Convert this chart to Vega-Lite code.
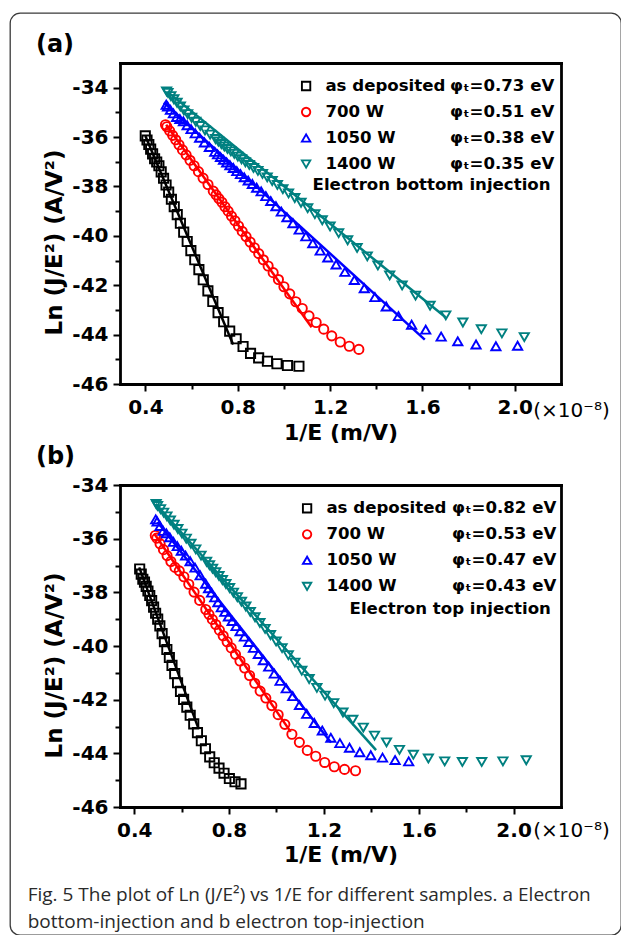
{
"$schema":"https://vega.github.io/schema/vega-lite/v6.json",
"width":611,"height":922,
"padding":{"left":10,"top":13,"right":0,"bottom":0},
"autosize":{"type":"none"},
"background":"white",
"config":{
"view":{"stroke":"#3a3a3a","strokeWidth":1.3,"cornerRadius":10},
"axis":{"grid":false,"domainColor":"black","domainWidth":2.8,"domainCap":"square","tickColor":"black","tickWidth":2,"labelColor":"black","labelFont":"DejaVu Sans","labelFontWeight":"bold","labelFontSize":20,"titleColor":"black","titleFont":"DejaVu Sans","titleFontWeight":"bold","titleFontSize":22,"labelOverlap":false,"labelFlush":false,"labelBound":false},
"legend":{"labelFont":"DejaVu Sans","labelFontWeight":"bold","labelFontSize":16.6,"labelColor":"black","rowPadding":9,"padding":0,"labelLimit":400}
},
"title":{"text":["Fig. 5 The plot of Ln (J/E²) vs 1/E for different samples. a Electron","bottom-injection and b electron top-injection"],"orient":"bottom","anchor":"start","frame":"group","offset":-49,"dx":17.7,"font":"Open Sans","fontSize":19,"fontWeight":"normal","color":"#2a2a2a","lineHeight":27,"baseline":"top"},
"datasets":{
"pa":[
{"s":"as deposited","x":0.3995,"y":-35.95},{"s":"as deposited","x":0.4070,"y":-36.12},{"s":"as deposited","x":0.4148,"y":-36.30},{"s":"as deposited","x":0.4228,"y":-36.49},{"s":"as deposited","x":0.4312,"y":-36.68},{"s":"as deposited","x":0.4399,"y":-36.88},{"s":"as deposited","x":0.4490,"y":-37.01},{"s":"as deposited","x":0.4585,"y":-37.16},{"s":"as deposited","x":0.4684,"y":-37.41},{"s":"as deposited","x":0.4787,"y":-37.67},{"s":"as deposited","x":0.4895,"y":-37.94},{"s":"as deposited","x":0.5008,"y":-38.23},{"s":"as deposited","x":0.5126,"y":-38.52},{"s":"as deposited","x":0.5249,"y":-38.82},{"s":"as deposited","x":0.5379,"y":-39.14},{"s":"as deposited","x":0.5516,"y":-39.49},{"s":"as deposited","x":0.5659,"y":-39.85},{"s":"as deposited","x":0.5811,"y":-40.23},{"s":"as deposited","x":0.5970,"y":-40.60},{"s":"as deposited","x":0.6139,"y":-40.97},{"s":"as deposited","x":0.6317,"y":-41.37},{"s":"as deposited","x":0.6506,"y":-41.78},{"s":"as deposited","x":0.6707,"y":-42.23},{"s":"as deposited","x":0.6920,"y":-42.66},{"s":"as deposited","x":0.7148,"y":-43.11},{"s":"as deposited","x":0.7391,"y":-43.48},{"s":"as deposited","x":0.7651,"y":-43.86},{"s":"as deposited","x":0.7930,"y":-44.17},{"s":"as deposited","x":0.8230,"y":-44.48},{"s":"as deposited","x":0.8554,"y":-44.76},{"s":"as deposited","x":0.8905,"y":-44.94},{"s":"as deposited","x":0.9285,"y":-45.08},{"s":"as deposited","x":0.9699,"y":-45.18},{"s":"as deposited","x":1.0152,"y":-45.25},{"s":"as deposited","x":1.065,"y":-45.28},
{"s":"700 W","x":0.4870,"y":-35.50},{"s":"700 W","x":0.4929,"y":-35.58},{"s":"700 W","x":0.5051,"y":-35.75},{"s":"700 W","x":0.5179,"y":-35.93},{"s":"700 W","x":0.5313,"y":-36.11},{"s":"700 W","x":0.5456,"y":-36.31},{"s":"700 W","x":0.5605,"y":-36.52},{"s":"700 W","x":0.5764,"y":-36.72},{"s":"700 W","x":0.5931,"y":-36.94},{"s":"700 W","x":0.6109,"y":-37.16},{"s":"700 W","x":0.6297,"y":-37.40},{"s":"700 W","x":0.6498,"y":-37.66},{"s":"700 W","x":0.6711,"y":-37.92},{"s":"700 W","x":0.6940,"y":-38.19},{"s":"700 W","x":0.7060,"y":-38.34},{"s":"700 W","x":0.7184,"y":-38.49},{"s":"700 W","x":0.7313,"y":-38.64},{"s":"700 W","x":0.7446,"y":-38.82},{"s":"700 W","x":0.7584,"y":-39.00},{"s":"700 W","x":0.7728,"y":-39.20},{"s":"700 W","x":0.7877,"y":-39.39},{"s":"700 W","x":0.8032,"y":-39.60},{"s":"700 W","x":0.8193,"y":-39.82},{"s":"700 W","x":0.8361,"y":-40.03},{"s":"700 W","x":0.8536,"y":-40.25},{"s":"700 W","x":0.8718,"y":-40.48},{"s":"700 W","x":0.8909,"y":-40.72},{"s":"700 W","x":0.9107,"y":-40.97},{"s":"700 W","x":0.9315,"y":-41.22},{"s":"700 W","x":0.9533,"y":-41.49},{"s":"700 W","x":0.9761,"y":-41.77},{"s":"700 W","x":1.0000,"y":-42.06},{"s":"700 W","x":1.0251,"y":-42.35},{"s":"700 W","x":1.0515,"y":-42.67},{"s":"700 W","x":1.0793,"y":-42.94},{"s":"700 W","x":1.1086,"y":-43.24},{"s":"700 W","x":1.1396,"y":-43.51},{"s":"700 W","x":1.1723,"y":-43.78},{"s":"700 W","x":1.2070,"y":-44.05},{"s":"700 W","x":1.2438,"y":-44.30},{"s":"700 W","x":1.2829,"y":-44.47},{"s":"700 W","x":1.3245,"y":-44.60},
{"s":"1050 W","x":0.4901,"y":-34.69},{"s":"1050 W","x":0.4960,"y":-34.76},{"s":"1050 W","x":0.5084,"y":-34.90},{"s":"1050 W","x":0.5214,"y":-35.04},{"s":"1050 W","x":0.5351,"y":-35.19},{"s":"1050 W","x":0.5495,"y":-35.27},{"s":"1050 W","x":0.5647,"y":-35.36},{"s":"1050 W","x":0.5807,"y":-35.52},{"s":"1050 W","x":0.5977,"y":-35.68},{"s":"1050 W","x":0.6158,"y":-35.85},{"s":"1050 W","x":0.6349,"y":-36.03},{"s":"1050 W","x":0.6553,"y":-36.22},{"s":"1050 W","x":0.6770,"y":-36.40},{"s":"1050 W","x":0.7003,"y":-36.60},{"s":"1050 W","x":0.7125,"y":-36.70},{"s":"1050 W","x":0.7252,"y":-36.81},{"s":"1050 W","x":0.7383,"y":-36.92},{"s":"1050 W","x":0.7519,"y":-37.03},{"s":"1050 W","x":0.7660,"y":-37.14},{"s":"1050 W","x":0.7806,"y":-37.25},{"s":"1050 W","x":0.7959,"y":-37.38},{"s":"1050 W","x":0.8117,"y":-37.50},{"s":"1050 W","x":0.8282,"y":-37.63},{"s":"1050 W","x":0.8453,"y":-37.76},{"s":"1050 W","x":0.8632,"y":-37.90},{"s":"1050 W","x":0.8818,"y":-38.05},{"s":"1050 W","x":0.9013,"y":-38.20},{"s":"1050 W","x":0.9217,"y":-38.39},{"s":"1050 W","x":0.9430,"y":-38.59},{"s":"1050 W","x":0.9653,"y":-38.80},{"s":"1050 W","x":0.9886,"y":-39.02},{"s":"1050 W","x":1.013,"y":-39.25},{"s":"1050 W","x":1.039,"y":-39.49},{"s":"1050 W","x":1.066,"y":-39.75},{"s":"1050 W","x":1.095,"y":-40.02},{"s":"1050 W","x":1.125,"y":-40.30},{"s":"1050 W","x":1.157,"y":-40.60},{"s":"1050 W","x":1.190,"y":-40.88},{"s":"1050 W","x":1.226,"y":-41.16},{"s":"1050 W","x":1.264,"y":-41.46},{"s":"1050 W","x":1.305,"y":-41.79},{"s":"1050 W","x":1.348,"y":-42.12},{"s":"1050 W","x":1.394,"y":-42.48},{"s":"1050 W","x":1.443,"y":-42.86},{"s":"1050 W","x":1.496,"y":-43.25},{"s":"1050 W","x":1.553,"y":-43.60},{"s":"1050 W","x":1.614,"y":-43.80},{"s":"1050 W","x":1.681,"y":-44.08},{"s":"1050 W","x":1.753,"y":-44.27},{"s":"1050 W","x":1.832,"y":-44.40},{"s":"1050 W","x":1.918,"y":-44.47},{"s":"1050 W","x":2.012,"y":-44.45},
{"s":"1400 W","x":0.4918,"y":-34.15},{"s":"1400 W","x":0.4978,"y":-34.21},{"s":"1400 W","x":0.5102,"y":-34.34},{"s":"1400 W","x":0.5233,"y":-34.47},{"s":"1400 W","x":0.5371,"y":-34.61},{"s":"1400 W","x":0.5516,"y":-34.76},{"s":"1400 W","x":0.5669,"y":-34.92},{"s":"1400 W","x":0.5831,"y":-35.07},{"s":"1400 W","x":0.6002,"y":-35.22},{"s":"1400 W","x":0.6184,"y":-35.38},{"s":"1400 W","x":0.6378,"y":-35.55},{"s":"1400 W","x":0.6583,"y":-35.73},{"s":"1400 W","x":0.6803,"y":-35.90},{"s":"1400 W","x":0.7037,"y":-36.08},{"s":"1400 W","x":0.7161,"y":-36.18},{"s":"1400 W","x":0.7289,"y":-36.28},{"s":"1400 W","x":0.7421,"y":-36.38},{"s":"1400 W","x":0.7559,"y":-36.48},{"s":"1400 W","x":0.7701,"y":-36.58},{"s":"1400 W","x":0.7849,"y":-36.68},{"s":"1400 W","x":0.8003,"y":-36.79},{"s":"1400 W","x":0.8163,"y":-36.90},{"s":"1400 W","x":0.8330,"y":-37.02},{"s":"1400 W","x":0.8503,"y":-37.13},{"s":"1400 W","x":0.8684,"y":-37.25},{"s":"1400 W","x":0.8873,"y":-37.37},{"s":"1400 W","x":0.9070,"y":-37.49},{"s":"1400 W","x":0.9276,"y":-37.63},{"s":"1400 W","x":0.9492,"y":-37.78},{"s":"1400 W","x":0.9718,"y":-37.94},{"s":"1400 W","x":0.9955,"y":-38.11},{"s":"1400 W","x":1.020,"y":-38.28},{"s":"1400 W","x":1.047,"y":-38.47},{"s":"1400 W","x":1.074,"y":-38.66},{"s":"1400 W","x":1.103,"y":-38.88},{"s":"1400 W","x":1.134,"y":-39.12},{"s":"1400 W","x":1.166,"y":-39.37},{"s":"1400 W","x":1.200,"y":-39.62},{"s":"1400 W","x":1.237,"y":-39.89},{"s":"1400 W","x":1.276,"y":-40.18},{"s":"1400 W","x":1.317,"y":-40.49},{"s":"1400 W","x":1.361,"y":-40.83},{"s":"1400 W","x":1.407,"y":-41.20},{"s":"1400 W","x":1.458,"y":-41.60},{"s":"1400 W","x":1.512,"y":-42.01},{"s":"1400 W","x":1.570,"y":-42.42},{"s":"1400 W","x":1.633,"y":-42.83},{"s":"1400 W","x":1.701,"y":-43.22},{"s":"1400 W","x":1.775,"y":-43.51},{"s":"1400 W","x":1.855,"y":-43.78},{"s":"1400 W","x":1.944,"y":-43.95},{"s":"1400 W","x":2.041,"y":-44.10}
],
"pb":[
{"s":"as deposited","x":0.4230,"y":-37.13},{"s":"as deposited","x":0.4296,"y":-37.32},{"s":"as deposited","x":0.4363,"y":-37.51},{"s":"as deposited","x":0.4433,"y":-37.62},{"s":"as deposited","x":0.4505,"y":-37.78},{"s":"as deposited","x":0.4579,"y":-37.95},{"s":"as deposited","x":0.4655,"y":-38.12},{"s":"as deposited","x":0.4735,"y":-38.31},{"s":"as deposited","x":0.4817,"y":-38.55},{"s":"as deposited","x":0.4902,"y":-38.78},{"s":"as deposited","x":0.4990,"y":-39.00},{"s":"as deposited","x":0.5081,"y":-39.25},{"s":"as deposited","x":0.5176,"y":-39.54},{"s":"as deposited","x":0.5274,"y":-39.84},{"s":"as deposited","x":0.5376,"y":-40.13},{"s":"as deposited","x":0.5482,"y":-40.43},{"s":"as deposited","x":0.5593,"y":-40.72},{"s":"as deposited","x":0.5708,"y":-41.03},{"s":"as deposited","x":0.5828,"y":-41.37},{"s":"as deposited","x":0.5952,"y":-41.69},{"s":"as deposited","x":0.6083,"y":-41.99},{"s":"as deposited","x":0.6219,"y":-42.28},{"s":"as deposited","x":0.6361,"y":-42.58},{"s":"as deposited","x":0.6510,"y":-42.90},{"s":"as deposited","x":0.6667,"y":-43.23},{"s":"as deposited","x":0.6831,"y":-43.53},{"s":"as deposited","x":0.7003,"y":-43.83},{"s":"as deposited","x":0.7184,"y":-44.13},{"s":"as deposited","x":0.7375,"y":-44.35},{"s":"as deposited","x":0.7576,"y":-44.55},{"s":"as deposited","x":0.7788,"y":-44.74},{"s":"as deposited","x":0.8013,"y":-44.94},{"s":"as deposited","x":0.8251,"y":-45.06},{"s":"as deposited","x":0.8503,"y":-45.14},
{"s":"700 W","x":0.4888,"y":-35.88},{"s":"700 W","x":0.4953,"y":-35.98},{"s":"700 W","x":0.5089,"y":-36.19},{"s":"700 W","x":0.5233,"y":-36.41},{"s":"700 W","x":0.5385,"y":-36.63},{"s":"700 W","x":0.5546,"y":-36.85},{"s":"700 W","x":0.5718,"y":-37.07},{"s":"700 W","x":0.5900,"y":-37.20},{"s":"700 W","x":0.6094,"y":-37.42},{"s":"700 W","x":0.6301,"y":-37.70},{"s":"700 W","x":0.6523,"y":-37.99},{"s":"700 W","x":0.6761,"y":-38.30},{"s":"700 W","x":0.7018,"y":-38.64},{"s":"700 W","x":0.7153,"y":-38.82},{"s":"700 W","x":0.7294,"y":-39.01},{"s":"700 W","x":0.7440,"y":-39.20},{"s":"700 W","x":0.7593,"y":-39.41},{"s":"700 W","x":0.7752,"y":-39.62},{"s":"700 W","x":0.7918,"y":-39.84},{"s":"700 W","x":0.8091,"y":-40.07},{"s":"700 W","x":0.8271,"y":-40.31},{"s":"700 W","x":0.8460,"y":-40.56},{"s":"700 W","x":0.8658,"y":-40.82},{"s":"700 W","x":0.8865,"y":-41.10},{"s":"700 W","x":0.9083,"y":-41.39},{"s":"700 W","x":0.9311,"y":-41.68},{"s":"700 W","x":0.9551,"y":-41.94},{"s":"700 W","x":0.9804,"y":-42.22},{"s":"700 W","x":1.0070,"y":-42.56},{"s":"700 W","x":1.0352,"y":-42.92},{"s":"700 W","x":1.0650,"y":-43.29},{"s":"700 W","x":1.0965,"y":-43.59},{"s":"700 W","x":1.1299,"y":-43.89},{"s":"700 W","x":1.1655,"y":-44.11},{"s":"700 W","x":1.2034,"y":-44.34},{"s":"700 W","x":1.2438,"y":-44.50},{"s":"700 W","x":1.2870,"y":-44.60},{"s":"700 W","x":1.3333,"y":-44.65},
{"s":"1050 W","x":0.4906,"y":-35.28},{"s":"1050 W","x":0.4965,"y":-35.36},{"s":"1050 W","x":0.5089,"y":-35.53},{"s":"1050 W","x":0.5219,"y":-35.71},{"s":"1050 W","x":0.5356,"y":-35.80},{"s":"1050 W","x":0.5501,"y":-35.95},{"s":"1050 W","x":0.5653,"y":-36.12},{"s":"1050 W","x":0.5814,"y":-36.28},{"s":"1050 W","x":0.5984,"y":-36.45},{"s":"1050 W","x":0.6165,"y":-36.63},{"s":"1050 W","x":0.6357,"y":-36.84},{"s":"1050 W","x":0.6562,"y":-37.08},{"s":"1050 W","x":0.6780,"y":-37.37},{"s":"1050 W","x":0.7013,"y":-37.68},{"s":"1050 W","x":0.7135,"y":-37.85},{"s":"1050 W","x":0.7262,"y":-38.01},{"s":"1050 W","x":0.7394,"y":-38.19},{"s":"1050 W","x":0.7530,"y":-38.37},{"s":"1050 W","x":0.7672,"y":-38.56},{"s":"1050 W","x":0.7819,"y":-38.73},{"s":"1050 W","x":0.7971,"y":-38.90},{"s":"1050 W","x":0.8130,"y":-39.07},{"s":"1050 W","x":0.8295,"y":-39.26},{"s":"1050 W","x":0.8467,"y":-39.45},{"s":"1050 W","x":0.8647,"y":-39.65},{"s":"1050 W","x":0.8834,"y":-39.85},{"s":"1050 W","x":0.9029,"y":-40.07},{"s":"1050 W","x":0.9234,"y":-40.30},{"s":"1050 W","x":0.9447,"y":-40.53},{"s":"1050 W","x":0.9671,"y":-40.77},{"s":"1050 W","x":0.9906,"y":-41.03},{"s":"1050 W","x":1.0152,"y":-41.30},{"s":"1050 W","x":1.0411,"y":-41.58},{"s":"1050 W","x":1.0684,"y":-41.87},{"s":"1050 W","x":1.0971,"y":-42.20},{"s":"1050 W","x":1.1274,"y":-42.53},{"s":"1050 W","x":1.1594,"y":-42.87},{"s":"1050 W","x":1.1933,"y":-43.15},{"s":"1050 W","x":1.2293,"y":-43.42},{"s":"1050 W","x":1.2674,"y":-43.62},{"s":"1050 W","x":1.3080,"y":-43.79},{"s":"1050 W","x":1.3514,"y":-43.96},{"s":"1050 W","x":1.3976,"y":-44.07},{"s":"1050 W","x":1.4472,"y":-44.16},{"s":"1050 W","x":1.5004,"y":-44.25},{"s":"1050 W","x":1.5576,"y":-44.30},
{"s":"1400 W","x":0.4925,"y":-34.71},{"s":"1400 W","x":0.4985,"y":-34.78},{"s":"1400 W","x":0.5110,"y":-34.90},{"s":"1400 W","x":0.5241,"y":-35.03},{"s":"1400 W","x":0.5379,"y":-35.17},{"s":"1400 W","x":0.5525,"y":-35.32},{"s":"1400 W","x":0.5679,"y":-35.48},{"s":"1400 W","x":0.5841,"y":-35.64},{"s":"1400 W","x":0.6013,"y":-35.81},{"s":"1400 W","x":0.6196,"y":-36.00},{"s":"1400 W","x":0.6390,"y":-36.19},{"s":"1400 W","x":0.6596,"y":-36.40},{"s":"1400 W","x":0.6817,"y":-36.63},{"s":"1400 W","x":0.7052,"y":-36.86},{"s":"1400 W","x":0.7176,"y":-36.99},{"s":"1400 W","x":0.7305,"y":-37.12},{"s":"1400 W","x":0.7438,"y":-37.25},{"s":"1400 W","x":0.7576,"y":-37.39},{"s":"1400 W","x":0.7719,"y":-37.54},{"s":"1400 W","x":0.7868,"y":-37.69},{"s":"1400 W","x":0.8022,"y":-37.84},{"s":"1400 W","x":0.8183,"y":-38.01},{"s":"1400 W","x":0.8351,"y":-38.18},{"s":"1400 W","x":0.8525,"y":-38.35},{"s":"1400 W","x":0.8707,"y":-38.53},{"s":"1400 W","x":0.8897,"y":-38.73},{"s":"1400 W","x":0.9095,"y":-38.93},{"s":"1400 W","x":0.9302,"y":-39.14},{"s":"1400 W","x":0.9519,"y":-39.36},{"s":"1400 W","x":0.9747,"y":-39.59},{"s":"1400 W","x":0.9985,"y":-39.83},{"s":"1400 W","x":1.0235,"y":-40.08},{"s":"1400 W","x":1.0499,"y":-40.34},{"s":"1400 W","x":1.0776,"y":-40.62},{"s":"1400 W","x":1.1068,"y":-40.92},{"s":"1400 W","x":1.1377,"y":-41.23},{"s":"1400 W","x":1.1703,"y":-41.56},{"s":"1400 W","x":1.2048,"y":-41.85},{"s":"1400 W","x":1.2415,"y":-42.13},{"s":"1400 W","x":1.2804,"y":-42.48},{"s":"1400 W","x":1.3219,"y":-42.75},{"s":"1400 W","x":1.3661,"y":-43.04},{"s":"1400 W","x":1.4134,"y":-43.34},{"s":"1400 W","x":1.4641,"y":-43.59},{"s":"1400 W","x":1.5186,"y":-43.87},{"s":"1400 W","x":1.5773,"y":-44.05},{"s":"1400 W","x":1.6407,"y":-44.19},{"s":"1400 W","x":1.7094,"y":-44.30},{"s":"1400 W","x":1.7841,"y":-44.32},{"s":"1400 W","x":1.8657,"y":-44.32},{"s":"1400 W","x":1.9550,"y":-44.30},{"s":"1400 W","x":2.0534,"y":-44.26}
],
"la":[
{"s":"as deposited","x":0.40,"y":-35.96},{"s":"as deposited","x":0.78,"y":-44.40},
{"s":"700 W","x":0.49,"y":-35.50},{"s":"700 W","x":1.12,"y":-43.70},
{"s":"1050 W","x":0.48,"y":-34.60},{"s":"1050 W","x":1.61,"y":-44.20},
{"s":"1400 W","x":0.50,"y":-34.20},{"s":"1400 W","x":1.70,"y":-43.30}
],
"lb":[
{"s":"as deposited","x":0.421,"y":-37.07},{"s":"as deposited","x":0.67,"y":-43.05},
{"s":"700 W","x":0.484,"y":-35.81},{"s":"700 W","x":1.06,"y":-43.20},
{"s":"1050 W","x":0.498,"y":-35.38},{"s":"1050 W","x":1.23,"y":-43.60},
{"s":"1400 W","x":0.49,"y":-34.70},{"s":"1400 W","x":1.42,"y":-43.88}
],
"ga":[
{"phi":"φₜ=0.73 eV","note":"Electron bottom injection"},{"phi":"φₜ=0.51 eV","note":"Electron bottom injection"},{"phi":"φₜ=0.38 eV","note":"Electron bottom injection"},{"phi":"φₜ=0.35 eV","note":"Electron bottom injection"}
],
"gb":[
{"phi":"φₜ=0.82 eV","note":"Electron top injection"},{"phi":"φₜ=0.53 eV","note":"Electron top injection"},{"phi":"φₜ=0.47 eV","note":"Electron top injection"},{"phi":"φₜ=0.43 eV","note":"Electron top injection"}
]
},
"layer":[
{
"layer":[
{"data":{"name":"pa"},
"mark":{"type":"point","filled":false,"strokeWidth":1.9,"size":85,"opacity":1},
"encoding":{
"x":{"field":"x","type":"quantitative","scale":{"domain":[0.29,2.2],"range":[110,551],"nice":false,"zero":false},
"axis":{"orient":"bottom","offset":-551,"values":[0.4,0.6,0.8,1.0,1.2,1.4,1.6,1.8,2.0],"labelExpr":"round(datum.value*10) % 4 == 0 ? format(datum.value, '.1f') : ''","tickSize":{"condition":{"test":"round(datum.value*10) % 4 == 0","value":7},"value":5},"labelPadding":6,"title":"1/E (m/V)","titleX":330.5,"titleY":48,"titleAngle":0,"titleAlign":"center","titleBaseline":"middle"}},
"y":{"field":"y","type":"quantitative","scale":{"domain":[-46,-33],"range":[371,50],"nice":false,"zero":false},
"axis":{"orient":"left","offset":-110,"values":[-46,-45,-44,-43,-42,-41,-40,-39,-38,-37,-36,-35,-34],"labelExpr":"datum.value % 2 == 0 ? '' + datum.value : ''","tickSize":{"condition":{"test":"datum.value % 2 == 0","value":7},"value":5},"labelPadding":5,"title":"Ln (J/E²) (A/V²)","titleX":-65.5,"titleY":229,"titleAngle":-90,"titleFontSize":23,"titleAlign":"center","titleBaseline":"middle"}},
"color":{"field":"s","type":"nominal","scale":{"domain":["as deposited","700 W","1050 W","1400 W"],"range":["#000000","#ff0000","#0000ff","#008080"]},
"legend":{"orient":"none","legendX":287.8,"legendY":64.7,"title":null,"symbolSize":70,"symbolStrokeWidth":1.9,"symbolFillColor":"transparent","symbolOpacity":1,"labelOffset":11}},
"shape":{"field":"s","type":"nominal","scale":{"domain":["as deposited","700 W","1050 W","1400 W"],"range":["square","circle","triangle-up","triangle-down"]}}
}},
{"data":{"name":"la"},
"mark":{"type":"line","strokeWidth":2.5},
"encoding":{
"x":{"field":"x","type":"quantitative","axis":{"orient":"top","offset":-50,"ticks":false,"labels":false,"title":"(a)","titleX":44.5,"titleY":-19,"titleFontSize":24,"titleAngle":0,"titleAlign":"center","titleBaseline":"middle"}},
"y":{"field":"y","type":"quantitative","axis":{"orient":"right","offset":-60,"ticks":false,"labels":false,"title":"(×10⁻⁸)","titleX":10,"titleY":397,"titleAngle":0,"titleFontWeight":"normal","titleFontSize":20,"titleAlign":"center","titleBaseline":"middle"}},
"color":{"field":"s","type":"nominal","legend":null}
}},
{"data":{"name":"ga"},
"mark":{"type":"point","opacity":0},
"encoding":{
"strokeDash":{"field":"phi","type":"nominal","scale":{"domain":["φₜ=0.73 eV","φₜ=0.51 eV","φₜ=0.38 eV","φₜ=0.35 eV"]},"legend":{"orient":"none","legendX":423.5,"legendY":64.7,"title":null,"symbolSize":0,"symbolOpacity":0,"labelOffset":0}},
"fill":{"field":"note","type":"nominal","legend":{"orient":"none","legendX":286,"legendY":163.7,"title":null,"symbolSize":0,"symbolOpacity":0,"labelOffset":0}}
}}
],
"resolve":{"axis":{"x":"independent","y":"independent"}}
},
{
"layer":[
{"data":{"name":"pb"},
"mark":{"type":"point","filled":false,"strokeWidth":1.9,"size":85,"opacity":1},
"encoding":{
"x":{"field":"x","type":"quantitative","scale":{"domain":[0.34,2.2],"range":[110,551],"nice":false,"zero":false},
"axis":{"orient":"bottom","offset":-128,"values":[0.4,0.6,0.8,1.0,1.2,1.4,1.6,1.8,2.0],"labelExpr":"round(datum.value*10) % 4 == 0 ? format(datum.value, '.1f') : ''","tickSize":{"condition":{"test":"round(datum.value*10) % 4 == 0","value":7},"value":5},"labelPadding":6,"title":"1/E (m/V)","titleX":330.5,"titleY":47,"titleAngle":0,"titleAlign":"center","titleBaseline":"middle"}},
"y":{"field":"y","type":"quantitative","scale":{"domain":[-46,-34],"range":[794,472],"nice":false,"zero":false},
"axis":{"orient":"left","offset":-110,"values":[-46,-45,-44,-43,-42,-41,-40,-39,-38,-37,-36,-35,-34],"labelExpr":"datum.value % 2 == 0 ? '' + datum.value : ''","tickSize":{"condition":{"test":"datum.value % 2 == 0","value":7},"value":5},"labelPadding":5,"title":"Ln (J/E²) (A/V²)","titleX":-65.5,"titleY":652,"titleAngle":-90,"titleFontSize":23,"titleAlign":"center","titleBaseline":"middle"}},
"color":{"field":"s","type":"nominal","scale":{"domain":["as deposited","700 W","1050 W","1400 W"],"range":["#000000","#ff0000","#0000ff","#008080"]},
"legend":{"orient":"none","legendX":288.8,"legendY":487,"title":null,"symbolSize":70,"symbolStrokeWidth":1.9,"symbolFillColor":"transparent","symbolOpacity":1,"labelOffset":11}},
"shape":{"field":"s","type":"nominal","scale":{"domain":["as deposited","700 W","1050 W","1400 W"],"range":["square","circle","triangle-up","triangle-down"]}}
}},
{"data":{"name":"lb"},
"mark":{"type":"line","strokeWidth":2.5},
"encoding":{
"x":{"field":"x","type":"quantitative","axis":{"orient":"top","offset":-472,"ticks":false,"labels":false,"title":"(b)","titleX":45,"titleY":-29,"titleFontSize":24,"titleAngle":0,"titleAlign":"center","titleBaseline":"middle"}},
"y":{"field":"y","type":"quantitative","axis":{"orient":"right","offset":-60,"ticks":false,"labels":false,"title":"(×10⁻⁸)","titleX":10,"titleY":817,"titleAngle":0,"titleFontWeight":"normal","titleFontSize":20,"titleAlign":"center","titleBaseline":"middle"}},
"color":{"field":"s","type":"nominal","legend":null}
}},
{"data":{"name":"gb"},
"mark":{"type":"point","opacity":0},
"encoding":{
"strokeDash":{"field":"phi","type":"nominal","scale":{"domain":["φₜ=0.82 eV","φₜ=0.53 eV","φₜ=0.47 eV","φₜ=0.43 eV"]},"legend":{"orient":"none","legendX":425.5,"legendY":487,"title":null,"symbolSize":0,"symbolOpacity":0,"labelOffset":0}},
"fill":{"field":"note","type":"nominal","legend":{"orient":"none","legendX":323,"legendY":587.7,"title":null,"symbolSize":0,"symbolOpacity":0,"labelOffset":0}}
}}
],
"resolve":{"axis":{"x":"independent","y":"independent"}}
}
],
"resolve":{"scale":{"x":"independent","y":"independent","color":"independent","shape":"independent","strokeDash":"independent","fill":"independent"},"axis":{"x":"independent","y":"independent"},"legend":{"color":"independent","shape":"independent","strokeDash":"independent","fill":"independent"}}
}
